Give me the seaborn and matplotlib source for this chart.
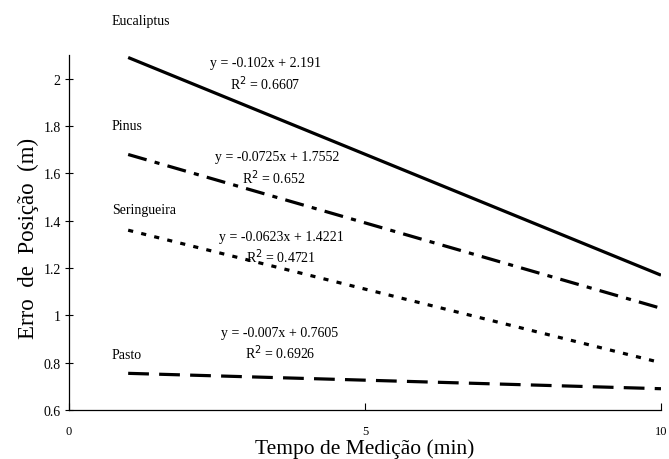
import matplotlib
matplotlib.use("Agg")
import matplotlib.pyplot as plt
import seaborn as sns
import pandas as pd

sns.set_theme(style="white")
plt.rcParams['font.family'] = ['Liberation Serif', 'DejaVu Serif']
plt.rcParams['text.color'] = 'black'
plt.rcParams['axes.labelcolor'] = 'black'
plt.rcParams['xtick.color'] = 'black'
plt.rcParams['ytick.color'] = 'black'

# Data (trend line end points)
x_vals = [1, 10]
eucaliptus = [2.09, 1.17]
pinus = [1.68, 1.03]
seringueira = [1.36, 0.80]
pasto = [0.755, 0.69]

series_names = ["Eucaliptus", "Pinus", "Seringueira", "Pasto"]
series_values = [eucaliptus, pinus, seringueira, pasto]
equations = ["y = -0.102x + 2.191", "y = -0.0725x + 1.7552",
             "y = -0.0623x + 1.4221", "y = -0.007x + 0.7605"]
r2_values = ["0.6607", "0.652", "0.4721", "0.6926"]

x_ticks = [0, 5, 10]
y_ticks = [0.6, 0.8, 1.0, 1.2, 1.4, 1.6, 1.8, 2.0]
y_tick_labels = ["0.6", "0.8", "1", "1.2", "1.4", "1.6", "1.8", "2"]

styles = ["-", (0, (6, 2.6, 1.6, 2.6)), (0, (1.6, 2.6)), (0, (6.5, 3.2))]

fig = plt.figure(figsize=(6.69, 4.60), dpi=100)
ax = fig.add_axes([0.1031, 0.1065, 0.8849, 0.7715])

for name, vals, ls in zip(series_names, series_values, styles):
    df = pd.DataFrame({"x": x_vals, "y": vals})
    sns.lineplot(data=df, x="x", y="y", ax=ax, color="black", lw=2.3,
                 linestyle=ls, solid_capstyle="butt", dash_capstyle="butt")

ax.set_xlim(0, 10)
ax.set_ylim(0.6, 2.1)
ax.set_xticks(x_ticks)
ax.set_xticklabels([str(t) for t in x_ticks], fontsize=9)
ax.set_yticks(y_ticks)
ax.set_yticklabels(y_tick_labels, fontsize=10)
ax.tick_params(axis="x", bottom=True, direction="in", length=5, width=0.8, pad=11)
ax.tick_params(axis="y", left=True, direction="inout", length=6, width=0.8, pad=3)
for s in ["top", "right"]:
    ax.spines[s].set_visible(False)
for s in ["left", "bottom"]:
    ax.spines[s].set_color("black")
    ax.spines[s].set_linewidth(0.9)

ax.set_xlabel("Tempo de Medição (min)", fontsize=15.5)
ax.set_ylabel("Erro  de  Posição  (m)", fontsize=16.5)
ax.xaxis.set_label_coords(0.5, -0.08)
ax.yaxis.set_label_coords(-0.05, 0.485)

# labels in figure pixel coords
W, H = 669, 460
def fx(px):
    return px / W
def fy(py):
    return 1 - py / H

name_pos = [(112, 22), (112, 126), (112, 211), (112, 356)]
eq_pos = [(265, 64), (277, 158), (281, 238), (280, 333)]
r2_pos = [(265, 84), (274, 178), (281, 257), (280, 353)]
for name, npos, eq, epos, r2, rpos in zip(series_names, name_pos, equations, eq_pos, r2_values, r2_pos):
    fig.text(fx(npos[0]), fy(npos[1]), name, fontsize=10, ha="left", va="center")
    fig.text(fx(epos[0]), fy(epos[1]), eq, fontsize=10, ha="center", va="center")
    fig.text(fx(rpos[0]), fy(rpos[1]), "R$^{2}$ = " + r2, fontsize=10, ha="center", va="center")

fig.savefig("out.png", dpi=100, facecolor="white")
